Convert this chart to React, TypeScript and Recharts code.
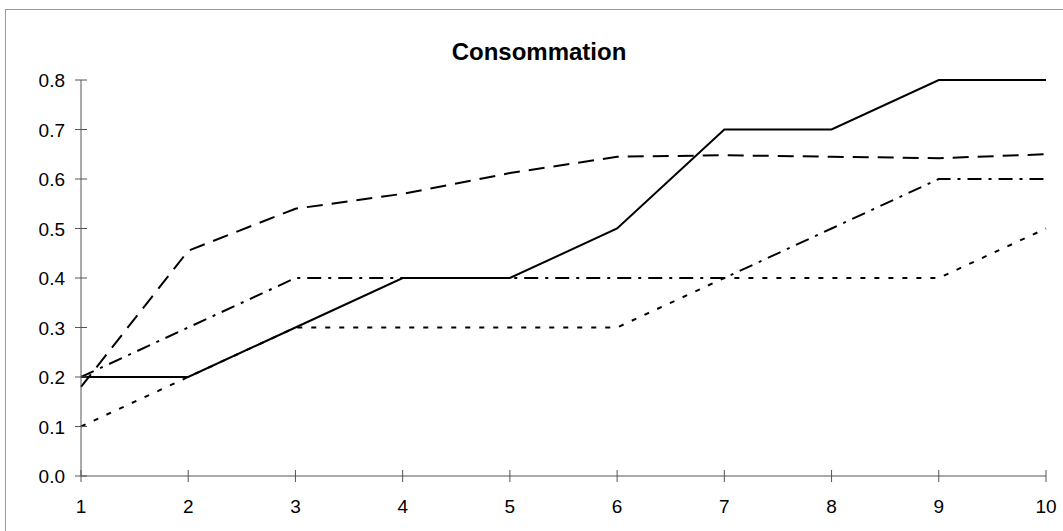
import { LineChart, Line, XAxis, YAxis } from 'recharts';

// Consommation over 10 periods, four series told apart by line style only
const periods = [1, 2, 3, 4, 5, 6, 7, 8, 9, 10];
const seriesSolid = [0.2, 0.2, 0.3, 0.4, 0.4, 0.5, 0.7, 0.7, 0.8, 0.8];
const seriesDashed = [0.18, 0.455, 0.54, 0.57, 0.612, 0.645, 0.648, 0.645, 0.642, 0.65];
const seriesDashDot = [0.2, 0.3, 0.4, 0.4, 0.4, 0.4, 0.4, 0.5, 0.6, 0.6];
const seriesDotted = [0.1, 0.2, 0.3, 0.3, 0.3, 0.3, 0.4, 0.4, 0.4, 0.5];
const yTicks = [0, 0.1, 0.2, 0.3, 0.4, 0.5, 0.6, 0.7, 0.8];

const chartData = periods.map((p, i) => ({
  period: p,
  solid: seriesSolid[i],
  dashed: seriesDashed[i],
  dashDot: seriesDashDot[i],
  dotted: seriesDotted[i],
}));

const FONT = '"Liberation Sans", Arial, sans-serif';
const AXIS_COLOR = '#555';

// ticks cross the axis line, like the old spreadsheet charts
const YTick = (props: any) => {
  const { x, y, payload } = props;
  return (
    <g>
      <line x1={x - 6} x2={x + 6} y1={y} y2={y} stroke={AXIS_COLOR} strokeWidth={1} />
      <text x={x - 16} y={y + 7} textAnchor="end" fontSize={19} fontFamily={FONT} fill="#000">
        {Number(payload.value).toFixed(1)}
      </text>
    </g>
  );
};

const XTick = (props: any) => {
  const { x, y, payload } = props;
  return (
    <g>
      <line x1={x} x2={x} y1={y - 6} y2={y + 6} stroke={AXIS_COLOR} strokeWidth={1} />
      <text x={x} y={y + 37} textAnchor="middle" fontSize={19} fontFamily={FONT} fill="#000">
        {payload.value}
      </text>
    </g>
  );
};

const App = () => {
  return (
    <div
      style={{
        position: 'absolute',
        left: 0,
        top: 0,
        width: 1063,
        height: 531,
        overflow: 'hidden',
        background: '#fff',
      }}
    >
      <div
        style={{
          position: 'absolute',
          left: 5,
          top: 9,
          width: 1100,
          height: 600,
          borderLeft: '1px solid #999',
          borderTop: '1px solid #999',
        }}
      />
      <div
        style={{
          position: 'absolute',
          left: 339,
          top: 40,
          width: 400,
          textAlign: 'center',
          fontFamily: FONT,
          fontWeight: 'bold',
          fontSize: 24,
          lineHeight: '24px',
          color: '#000',
        }}
      >
        Consommation
      </div>
      <div style={{ position: 'absolute', left: 0, top: 0 }}>
        <LineChart
          width={1063}
          height={531}
          data={chartData}
          margin={{ top: 80, right: 17, left: 21, bottom: 25 }}
        >
          <XAxis
            dataKey="period"
            type="number"
            domain={[1, 10]}
            ticks={periods}
            height={30}
            tickSize={0}
            tickMargin={0}
            tickLine={false}
            stroke={AXIS_COLOR}
            tick={<XTick />}
            interval={0}
          />
          <YAxis
            type="number"
            domain={[0, 0.8]}
            ticks={yTicks}
            width={60}
            tickSize={0}
            tickMargin={0}
            tickLine={false}
            stroke={AXIS_COLOR}
            tick={<YTick />}
            interval={0}
          />
          <Line
            type="linear"
            dataKey="dotted"
            stroke="#000"
            strokeWidth={2}
            strokeDasharray="5 9"
            dot={false}
            isAnimationActive={false}
          />
          <Line
            type="linear"
            dataKey="dashDot"
            stroke="#000"
            strokeWidth={2}
            strokeDasharray="14 7 3 7"
            dot={false}
            isAnimationActive={false}
          />
          <Line
            type="linear"
            dataKey="dashed"
            stroke="#000"
            strokeWidth={2}
            strokeDasharray="16 9"
            dot={false}
            isAnimationActive={false}
          />
          <Line
            type="linear"
            dataKey="solid"
            stroke="#000"
            strokeWidth={2}
            dot={false}
            isAnimationActive={false}
          />
        </LineChart>
      </div>
    </div>
  );
};

export default App;
